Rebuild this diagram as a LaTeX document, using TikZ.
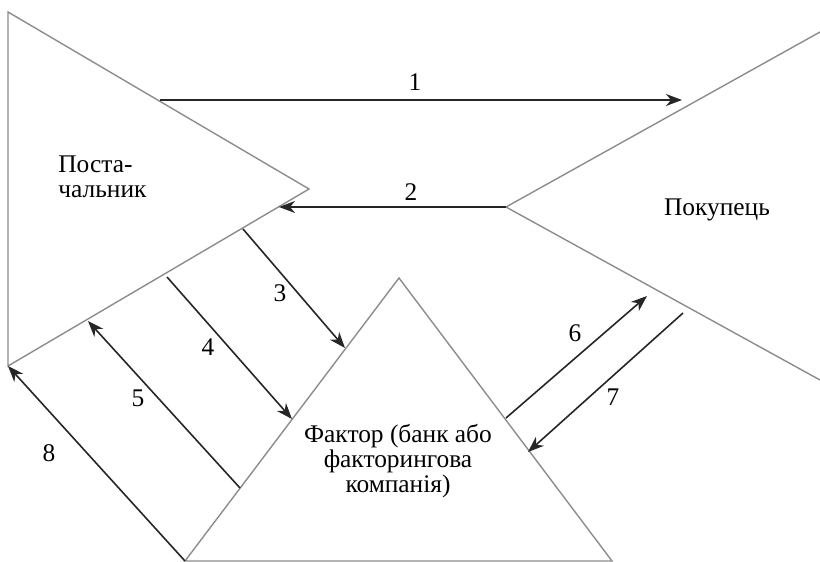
\documentclass[tikz,border=0pt]{standalone}
\usepackage{fontspec}
\setmainfont{Liberation Serif}
\usetikzlibrary{arrows.meta}

\tikzset{side/.style={draw=black!45,line width=0.7pt},
  flow/.style={draw=black!85,line width=0.8pt,-{Stealth[length=8pt,width=6pt,inset=2.5pt]}},
  num/.style={inner sep=0pt},
  party/.style={inner sep=0pt}}

\begin{document}
\begin{tikzpicture}[x=0.5pt,y=-0.5pt,font=\fontsize{12.7}{12.5}\selectfont]
  \useasboundingbox (0,0) rectangle (820,562);
  % triangles
  \coordinate (st) at (8,12);
  \coordinate (sa) at (309,189);
  \coordinate (sb) at (8,366);
  \coordinate (bt) at (820,32);
  \coordinate (ba) at (506,207);
  \coordinate (bb) at (820,380);
  \coordinate (fa) at (399,278);
  \coordinate (fl) at (185,561);
  \coordinate (fr) at (612,561);
  \draw [side] (st) -- (sa) -- (sb) -- cycle;
  \draw [side] (bt) -- (ba) -- (bb);
  \draw [side] (fa) -- (fl) -- (fr) -- cycle;

  \node [party,anchor=west,align=left] (supplier) at (58,177) {Поста-\\чальник};
  \node [party] (buyer) at (717,210) {Покупець};
  \node [party,align=center] (factor) at (398,461) {Фактор (банк або\\факторингова\\компанія)};

  % arrow ends
  \coordinate (a1s) at (160,100);  \coordinate (a1e) at (682,100);
  \coordinate (a2e) at (279,207);
  \coordinate (a3s) at (243,229);  \coordinate (a3e) at (345,348);
  \coordinate (a4s) at (167,277);  \coordinate (a4e) at (292,419);
  \coordinate (a5s) at (240,488);  \coordinate (a5e) at (88,321);
  \coordinate (a6s) at (506,418);  \coordinate (a6e) at (647,296);
  \coordinate (a7s) at (683,313);  \coordinate (a7e) at (528,452);

  \draw [flow] (a1s) -- (a1e);
  \draw [flow] (ba) -- (a2e);
  \draw [flow] (a3s) -- (a3e);
  \draw [flow] (a4s) -- (a4e);
  \draw [flow] (a5s) -- (a5e);
  \draw [flow] (a6s) -- (a6e);
  \draw [flow] (a7s) -- (a7e);
  \draw [flow] (fl) -- (sb);

  \node [num] (n1) at (415,82) {1};
  \node [num] (n2) at (411,192) {2};
  \node [num] (n3) at (280,293) {3};
  \node [num] (n4) at (208,347) {4};
  \node [num] (n5) at (138,398) {5};
  \node [num] (n6) at (575,333) {6};
  \node [num] (n7) at (613,397) {7};
  \node [num] (n8) at (49,453) {8};
\end{tikzpicture}
\end{document}
